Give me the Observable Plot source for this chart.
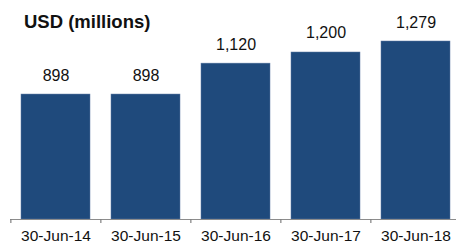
<!DOCTYPE html>
<html>
<head>
<meta charset="utf-8">
<script src="https://cdn.jsdelivr.net/npm/d3@7"></script>
<script src="https://cdn.jsdelivr.net/npm/@observablehq/plot@0.6"></script>
<style>
  html, body { margin: 0; padding: 0; background: #fff; overflow: hidden; }
  #wrap { position: relative; width: 456px; height: 244px; overflow: hidden; font-family: "Liberation Sans", Arial, sans-serif; }
  #title { position: absolute; left: 24px; top: 13px; font-size: 18.5px; font-weight: bold; line-height: 1; color: #111; }
</style>
</head>
<body>
<div id="wrap"><div id="title">USD (millions)</div></div>
<script>
const dates = ["30-Jun-14", "30-Jun-15", "30-Jun-16", "30-Jun-17", "30-Jun-18"];
const values = [898, 898, 1120, 1200, 1279];
const barColor = "#1F4A7C";

const data = dates.map((d, i) => ({date: d, value: values[i]}));
const fmt = d3.format(",");

const chart = Plot.plot({
  width: 456,
  height: 244,
  marginLeft: 10,
  marginRight: 0,
  marginTop: 0,
  marginBottom: 25,
  style: {fontFamily: "'Liberation Sans', Arial, sans-serif", background: "transparent"},
  x: {domain: dates, range: [10, 461.5], paddingInner: 0.233, paddingOuter: 0.1165, label: null, axis: null},
  y: {domain: [0, 1279], range: [219, 41], axis: null},
  marks: [
    Plot.barY(data, {x: "date", y: "value", fill: barColor, stroke: "#5d7aa3", strokeWidth: 0.5}),
    Plot.ruleY([0], {stroke: "#8c8c8c", strokeWidth: 1}),
    Plot.axisX({tickSize: 4, dx: -45.15, text: null, stroke: "#7f7f7f", strokeWidth: 1.2}),
    Plot.axisX({tickSize: 0, tickPadding: 10, fontSize: 15.5, fill: "#111", label: null}),
    Plot.text(data, {x: "date", y: "value", text: d => fmt(d.value), dy: -14, lineAnchor: "bottom", fontSize: 16, fill: "#111"})
  ]
});
document.getElementById("wrap").appendChild(chart);
</script>
</body>
</html>
